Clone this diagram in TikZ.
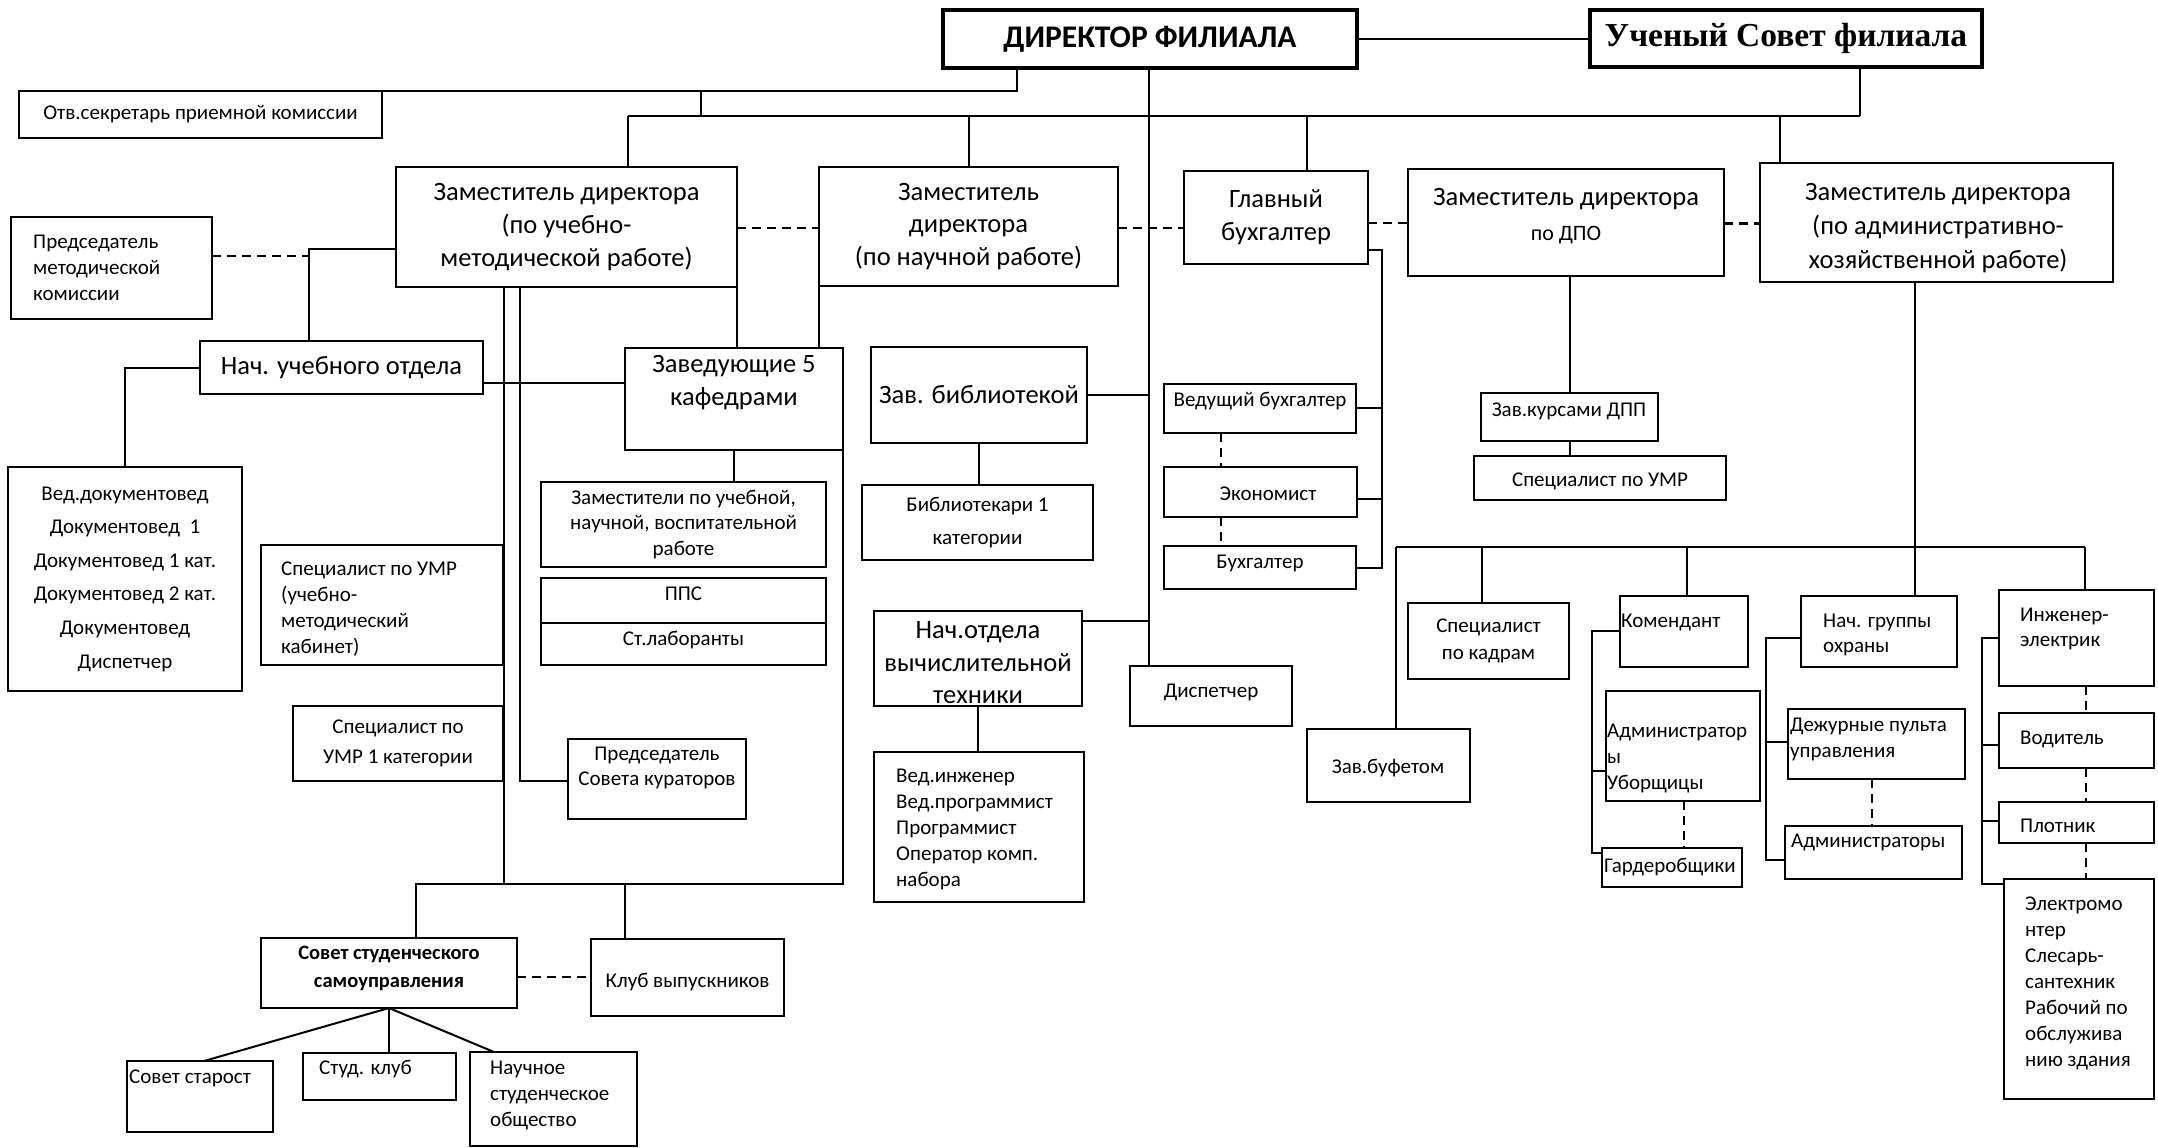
\documentclass[tikz,border=0pt]{standalone}
\usepackage{fontspec}
\setmainfont{Carlito}
\newfontfamily\serifb{Liberation Serif}
\newcommand{\bx}[7][]{\node[box,anchor=north west,minimum width={(#5)-(#3)},minimum height={(#6)-(#4)},#1] (#2) at (#3,#4) {#7};}
\begin{document}
\begin{tikzpicture}[x=1pt,y=-1pt,
  box/.style={draw,line width=2.6pt,inner sep=0pt,outer sep=0pt,align=center,font=\fontsize{21}{26}\selectfont},
  tbox/.style={line width=4.8pt},
  ln/.style={line width=2pt},
  dsh/.style={line width=2pt,dash pattern=on 9pt off 6pt},
  mf/.style={font=\fontsize{26.5}{33}\selectfont},
  tx/.style={inner sep=0pt,align=left,font=\fontsize{21}{26}\selectfont},
  txc/.style={inner sep=0pt,align=center,font=\fontsize{21}{26}\selectfont}
]
\fill[white] (0,0) rectangle (2158,1148);
\useasboundingbox (0,0) rectangle (2158,1148);

% ---- boxes ----
\bx[tbox,font=\bfseries\fontsize{31.5}{36}\selectfont]{dir}{943}{10}{1357}{68}{ДИРЕКТОР ФИЛИАЛА}
\bx[tbox,font=\serifb\bfseries\fontsize{33.5}{38}\selectfont]{us}{1590}{10}{1982}{67}{Ученый Совет филиала}
\bx{sec}{19}{91}{382}{138}{Отв.секретарь приемной комиссии}
\bx[mf]{zumr}{396}{167}{737}{287}{Заместитель директора\\(по учебно-\\методической работе)}
\bx{pmk}{11}{217}{212}{319}{}
\node[tx,anchor=west] (pmkt) at (33,268) {Председатель\\методической\\комиссии};
\bx[mf]{nuo}{200}{341}{483}{394}{Нач. учебного отдела}
\bx[font=\fontsize{21}{33.6}\selectfont]{doc}{8}{467}{242}{691}{Вед.документовед\\Документовед\ \ 1\\Документовед 1 кат.\\Документовед 2 кат.\\Документовед\\Диспетчер}
\bx{zk}{625}{348}{843}{450}{}
\node[txc,mf] (zkt) at (734,383) {Заведующие 5\\кафедрами};
\bx[font=\fontsize{21}{25.5}\selectfont]{zam3}{541}{482}{826}{567}{Заместители по учебной,\\научной, воспитательной\\работе}
\bx{pps}{541}{578}{826}{623}{}
\node[txc] (ppst) at (683.5,594) {ППС};
\bx{lab}{541}{623}{826}{665}{}
\node[txc] (labt) at (683.5,640) {Ст.лаборанты};
\bx{sumr}{261}{545}{503}{665}{}
\node[tx,anchor=west] (sumrt) at (281,609) {Специалист по УМР\\(учебно-\\методический\\кабинет)};
\bx[font=\fontsize{21}{30}\selectfont]{sumr1}{293}{706}{503}{781}{Специалист по\\УМР 1 категории}
\bx{psk}{568}{739}{746}{819}{}
\node[txc,font=\fontsize{21}{25}\selectfont] (pskt) at (657,768) {Председатель\\Совета кураторов};
\bx[font=\fontsize{26.5}{32.5}\selectfont]{zn}{819}{167}{1118}{286}{Заместитель\\директора\\(по научной работе)}
\bx[mf]{gb}{1184}{171}{1368}{264}{Главный\\бухгалтер}
\bx[mf]{zb}{871}{347}{1087}{443}{Зав. библиотекой}
\bx[font=\fontsize{21}{33}\selectfont]{bib}{862}{485}{1093}{560}{Библиотекари 1\\категории}
\bx{vb}{1164}{384}{1356}{433}{}
\node[txc] (vbt) at (1260,401) {Ведущий бухгалтер};
\bx{ek}{1164}{467}{1357}{517}{}
\node[txc] (ekt) at (1268,494) {Экономист};
\bx{bu}{1164}{546}{1356}{589}{}
\node[txc] (but) at (1260,563) {Бухгалтер};
\bx{novt}{874}{611}{1082}{706}{}
\node[txc,font=\fontsize{26.5}{32.5}\selectfont] (novtt) at (978,663) {Нач.отдела\\вычислительной\\техники};
\bx{disp}{1130}{666}{1292}{726}{}
\node[txc] (dispt) at (1211,692) {Диспетчер};
\bx{vi}{874}{752}{1084}{902}{}
\node[tx,anchor=west] (vit) at (896,829) {Вед.инженер\\Вед.программист\\Программист\\Оператор комп.\\набора};
\bx{zdpo}{1408}{169}{1724}{276}{}
\node[txc,mf] (zdpot1) at (1566,199) {Заместитель директора};
\node[txc,font=\fontsize{22}{26}\selectfont] (zdpot2) at (1566,235) {по ДПО};
\bx{zahr}{1760}{163}{2113}{282}{}
\node[txc,font=\fontsize{26.5}{34}\selectfont] (zahrt) at (1938,228) {Заместитель директора\\(по административно-\\хозяйственной работе)};
\bx{zkd}{1481}{393}{1658}{441}{}
\node[txc] (zkdt) at (1569,411) {Зав.курсами ДПП};
\bx{sdpo}{1474}{456}{1726}{500}{}
\node[txc] (sdpot) at (1600,481) {Специалист по УМР};
\bx{zbuf}{1307}{729}{1470}{802}{}
\node[txc] (zbuft) at (1388,768) {Зав.буфетом};
\bx[font=\fontsize{21}{27}\selectfont]{skad}{1408}{603}{1569}{679}{Специалист\\по кадрам}
\bx{kom}{1620}{596}{1748}{667}{}
\node[tx,anchor=west] (komt) at (1621,622) {Комендант};
\bx{adm}{1606}{691}{1760}{801}{}
\node[tx,anchor=west] (admt) at (1607,758) {Администратор\\ы\\Уборщицы};
\bx{gard}{1602}{848}{1742}{887}{}
\node[tx,anchor=west] (gardt) at (1604,867) {Гардеробщики};
\bx{ngo}{1801}{596}{1957}{667}{}
\node[tx,anchor=west,font=\fontsize{21}{25}\selectfont] (ngot) at (1823,635) {Нач. группы\\охраны};
\bx{dej}{1788}{709}{1965}{779}{}
\node[tx,anchor=west] (dejt) at (1790,739) {Дежурные пульта\\управления};
\bx{adm2}{1785}{826}{1962}{879}{}
\node[tx,anchor=west] (adm2t) at (1791,842) {Администраторы};
\bx{ie}{1999}{590}{2154}{686}{}
\node[tx,anchor=west,font=\fontsize{21}{25}\selectfont] (iet) at (2020,629) {Инженер-\\электрик};
\bx{vod}{1999}{713}{2154}{768}{}
\node[tx,anchor=west] (vodt) at (2020,739) {Водитель};
\bx{plot}{1999}{802}{2154}{843}{}
\node[tx,anchor=west] (plott) at (2020,826) {Плотник};
\bx{elm}{2004}{879}{2154}{1099}{}
\node[tx,anchor=west] (elmt) at (2025,983) {Электромо\\нтер\\Слесарь-\\сантехник\\Рабочий по\\обслужива\\нию здания};
\bx{sss}{261}{938}{517}{1008}{}
\node[txc,font=\bfseries\fontsize{20.5}{28}\selectfont] (ssst) at (389,968) {Совет студенческого\\самоуправления};
\bx{kv}{591}{939}{784}{1016}{}
\node[txc] (kvt) at (687.5,982) {Клуб выпускников};
\bx{ss}{127}{1061}{273}{1132}{}
\node[tx,anchor=west] (sst) at (129,1078) {Совет старост};
\bx{sk}{303}{1053}{456}{1100}{}
\node[tx,anchor=west] (skt) at (319,1069) {Студ. клуб};
\bx{nso}{470}{1052}{637}{1146}{}
\node[tx,anchor=west] (nsot) at (490,1095) {Научное\\студенческое\\общество};

% ---- connectors: top ----
\coordinate (j1) at (1017,91);
\coordinate (j2) at (701,91);
\coordinate (b1) at (628,116);
\coordinate (b2) at (1860,116);
\coordinate (b3) at (969,116);
\coordinate (b4) at (1307,116);
\coordinate (b5) at (1780,116);
\draw[ln] (dir.east) -- (dir.east -| us.west);
\draw[ln] (dir.south -| j1) -- (j1) -- (sec.north west);
\draw[ln] (j2) -- (j2 |- b1);
\draw[ln] (b1) -- (b2);
\draw[ln] (us.south -| b2) -- (b2);
\draw[ln] (b1) -- (b1 |- zumr.north);
\draw[ln] (b3) -- (b3 |- zn.north);
\draw[ln] (b4) -- (b4 |- gb.north);
\draw[ln] (b5) -- (b5 |- zahr.north);
% central line
\coordinate (cv) at (1149,0);
\coordinate (k1) at (1149,621);
\draw[ln] (dir.south -| cv) -- (cv |- disp.north);
\draw[ln] (zb.east) -- (zb.east -| cv);
\draw[ln] (novt.east |- k1) -- (k1);
% dashed links between deputies
\coordinate (d1) at (0,228);
\coordinate (d2) at (0,223);
\draw[dsh] (zumr.east |- d1) -- (zn.west |- d1);
\draw[dsh] (zn.east |- d1) -- (gb.west |- d1);
\draw[dsh] (gb.east |- d2) -- (zdpo.west |- d2);
\draw[dsh,line width=3pt] (zdpo.east |- d2) -- (zahr.west |- d2);

% ---- left part ----
\coordinate (m1) at (309,249);
\coordinate (m2) at (309,256);
\draw[dsh] (pmk.east |- m2) -- (m2);
\draw[ln] (zumr.west |- m1) -- (m1) -- (m1 |- nuo.north);
\coordinate (q1) at (125,368);
\draw[ln] (nuo.west |- q1) -- (q1) -- (q1 |- doc.north);
\coordinate (r1) at (0,383);
\draw[ln] (nuo.east |- r1) -- (zk.west |- r1);
\coordinate (v1) at (504,884);
\coordinate (v2) at (520,781);
\draw[ln] (zumr.south -| v1) -- (v1);
\draw[ln] (zumr.south -| v2) -- (v2) -- (psk.west |- v2);
\draw[ln] (zumr.south east) -- (zumr.south east |- zk.north);
\draw[ln] (zn.south west) -- (zn.south west |- zk.north);
\draw[ln] (zk.south) -- (zk.south |- zam3.north);
\coordinate (h1) at (416,884);
\coordinate (h2) at (625,884);
\draw[ln] (zk.south east) -- (zk.south east |- h1) -- (h1) -- (h1 |- sss.north);
\draw[ln] (h2) -- (h2 |- kv.north);
\coordinate (d3) at (0,977);
\draw[dsh] (sss.east |- d3) -- (kv.west |- d3);
\coordinate (n0) at (204,1061);
\coordinate (n1) at (494,1052);
\draw[ln] (sss.south) -- (n0 |- ss.north);
\draw[ln] (sss.south) -- (sss.south |- sk.north);
\draw[ln] (sss.south) -- (n1 |- nso.north);

% ---- middle ----
\draw[ln] (zb.south) -- (zb.south |- bib.north);
\draw[ln] (novt.south) -- (novt.south |- vi.north);
\coordinate (g1) at (1382,250);
\coordinate (g2) at (1382,408);
\coordinate (g3) at (1382,499);
\draw[ln] (gb.east |- g1) -- (g1) -- (g1 |- bu.east) -- (bu.east);
\draw[ln] (vb.east |- g2) -- (g2);
\draw[ln] (ek.east |- g3) -- (g3);
\coordinate (g4) at (1221,0);
\draw[dsh] (vb.south -| g4) -- (ek.north -| g4);
\draw[dsh] (ek.south -| g4) -- (bu.north -| g4);

% ---- DPO ----
\coordinate (p1) at (1570,0);
\draw[ln] (zdpo.south -| p1) -- (zkd.north -| p1);
\draw[ln] (zkd.south -| p1) -- (sdpo.north -| p1);

% ---- AHR ----
\coordinate (a0) at (1396,547);
\coordinate (a1) at (1915,547);
\coordinate (a2) at (1482,547);
\coordinate (a3) at (1687,547);
\coordinate (a5) at (2085,547);
\draw[ln] (zahr.south -| a1) -- (a1 |- ngo.north);
\draw[ln] (a0) -- (a5);
\draw[ln] (a0) -- (a0 |- zbuf.north);
\draw[ln] (a2) -- (a2 |- skad.north);
\draw[ln] (a3) -- (a3 |- kom.north);
\draw[ln] (a5) -- (a5 |- ie.north);
% komendant
\coordinate (c1) at (1592,631);
\coordinate (c2) at (1592,853);
\coordinate (c3) at (1592,771);
\coordinate (c4) at (1684,0);
\draw[ln] (kom.west |- c1) -- (c1) -- (c2) -- (gard.west |- c2);
\draw[ln] (c3) -- (adm.west |- c3);
\draw[dsh,line width=2.6pt] (adm.south -| c4) -- (gard.north -| c4);
% okhrana
\coordinate (o1) at (1766,638);
\coordinate (o2) at (1766,860);
\coordinate (o3) at (1766,742);
\coordinate (o4) at (1872,0);
\draw[ln] (ngo.west |- o1) -- (o1) -- (o2) -- (adm2.west |- o2);
\draw[ln] (o3) -- (dej.west |- o3);
\draw[dsh,line width=1.3pt] (dej.south -| o4) -- (adm2.north -| o4);
% engineer
\coordinate (e1) at (1982,638);
\coordinate (e2) at (1982,884);
\coordinate (e3) at (1982,745);
\coordinate (e4) at (1982,821);
\coordinate (e5) at (2086,0);
\draw[ln] (ie.west |- e1) -- (e1) -- (e2) -- (elm.west |- e2);
\draw[ln] (e3) -- (vod.west |- e3);
\draw[ln] (e4) -- (plot.west |- e4);
\draw[dsh,line width=1.3pt] (ie.south -| e5) -- (vod.north -| e5);
\draw[dsh,line width=2.6pt] (vod.south -| e5) -- (plot.north -| e5);
\draw[dsh,line width=2.6pt] (plot.south -| e5) -- (elm.north -| e5);
\end{tikzpicture}
\end{document}
